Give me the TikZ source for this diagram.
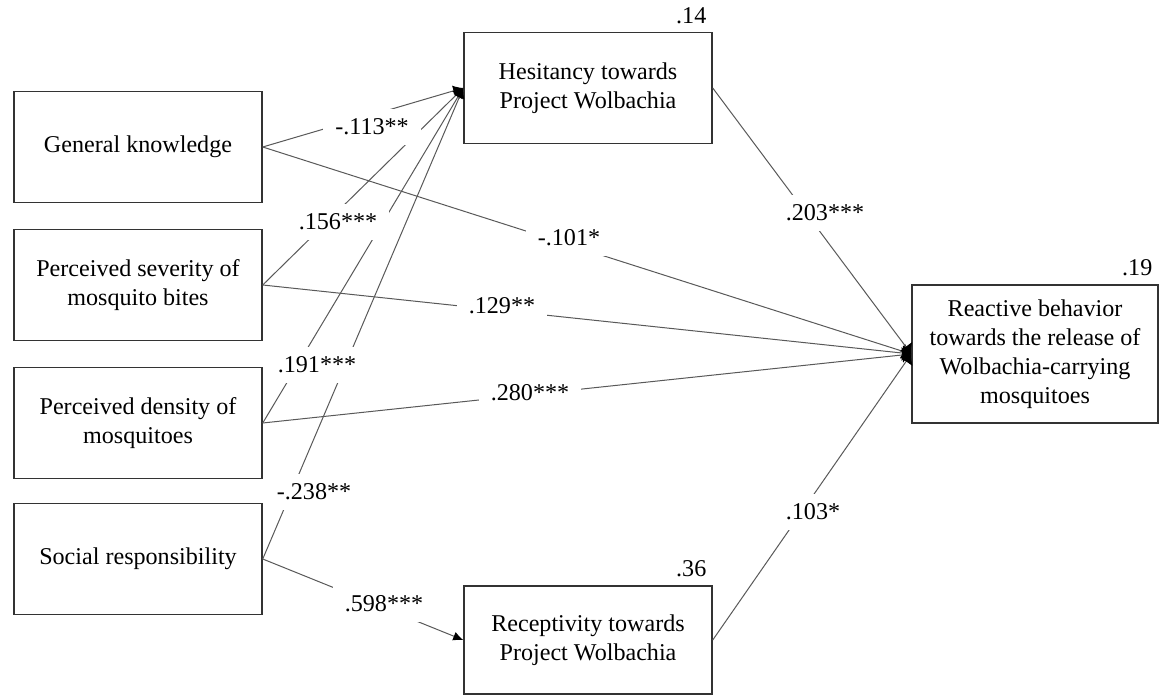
\documentclass[tikz,border=0pt]{standalone}
\usepackage{fontspec}
\setmainfont{Liberation Serif}
\usetikzlibrary{arrows.meta}

\begin{document}
\begin{tikzpicture}[x=0.0175cm,y=-0.0175cm,font=\fontsize{12}{14.4}\selectfont,
	var/.style={draw=black!80,line width=0.75pt,minimum width=4.34cm,minimum height=1.94cm,inner sep=0pt,align=center},
	coef/.style={fill=white,inner xsep=6pt,inner ysep=5pt},
	rsq/.style={anchor=south east,inner sep=0pt,xshift=-3pt,yshift=4pt}]
	\tikzset{link/.style={draw=black!65,line width=0.5pt},
		tohes/.style={link,-{Latex[length=5pt,width=5.5pt,color=black]}},
		torea/.style={link,-{Latex[length=4.5pt,width=8pt,color=black]}}}
%	\draw[help lines] (0,0) grid (1167,696);
	\useasboundingbox (0,0) rectangle (1167,696);
	% predictors
	\node[var] (gk) at (138,147) {General knowledge};
	\node[var] (sev) at (138,285) {Perceived severity of\\mosquito bites};
	\node[var] (den) at (138,423) {Perceived density of\\mosquitoes};
	\node[var] (soc) at (138,559) {Social responsibility};
	% mediators and outcome
	\node[var] (hes) at (588,88) {Hesitancy towards\\Project Wolbachia};
	\node[var,minimum height=1.89cm] (rec) at (588,640) {Receptivity towards\\Project Wolbachia};
	\node[var,minimum width=4.305cm,minimum height=2.415cm] (rea) at (1035,354)
		{Reactive behavior\\towards the release of\\Wolbachia-carrying\\mosquitoes};
	\node[rsq] at (hes.north east) {.14};
	\node[rsq] at (rec.north east) {.36};
	\node[rsq] at (rea.north east) {.19};
	% paths
	\draw[tohes] (gk.east) -- (hes.west);
	\draw[tohes] (sev.east) -- (hes.west);
	\draw[tohes] (den.east) -- (hes.west);
	\draw[tohes] (soc.east) -- (hes.west);
	\draw[link,-{Latex[length=5pt,width=4.5pt,color=black]}] (soc.east) -- (rec.west);
	\draw[torea] (gk.east) -- (rea.west);
	\draw[torea] (sev.east) -- (rea.west);
	\draw[torea] (den.east) -- (rea.west);
	\draw[torea] (hes.east) -- (rea.west);
	\draw[torea] (rec.east) -- (rea.west);
	% coefficients
	\node[coef] (c113) at (372,127) {-.113**};
	\node[coef] (c156) at (338,222) {.156***};
	\node[coef] (c191) at (317,365) {.191***};
	\node[coef] (c238) at (314,492) {-.238**};
	\node[coef] (c101) at (569,238) {-.101*};
	\node[coef] (c129) at (502,306) {.129**};
	\node[coef] (c280) at (530,393) {.280***};
	\node[coef] (c598) at (384,604) {.598***};
	\node[coef] (c203) at (825,213) {.203***};
	\node[coef] (c103) at (813,512) {.103*};
\end{tikzpicture}
\end{document}
